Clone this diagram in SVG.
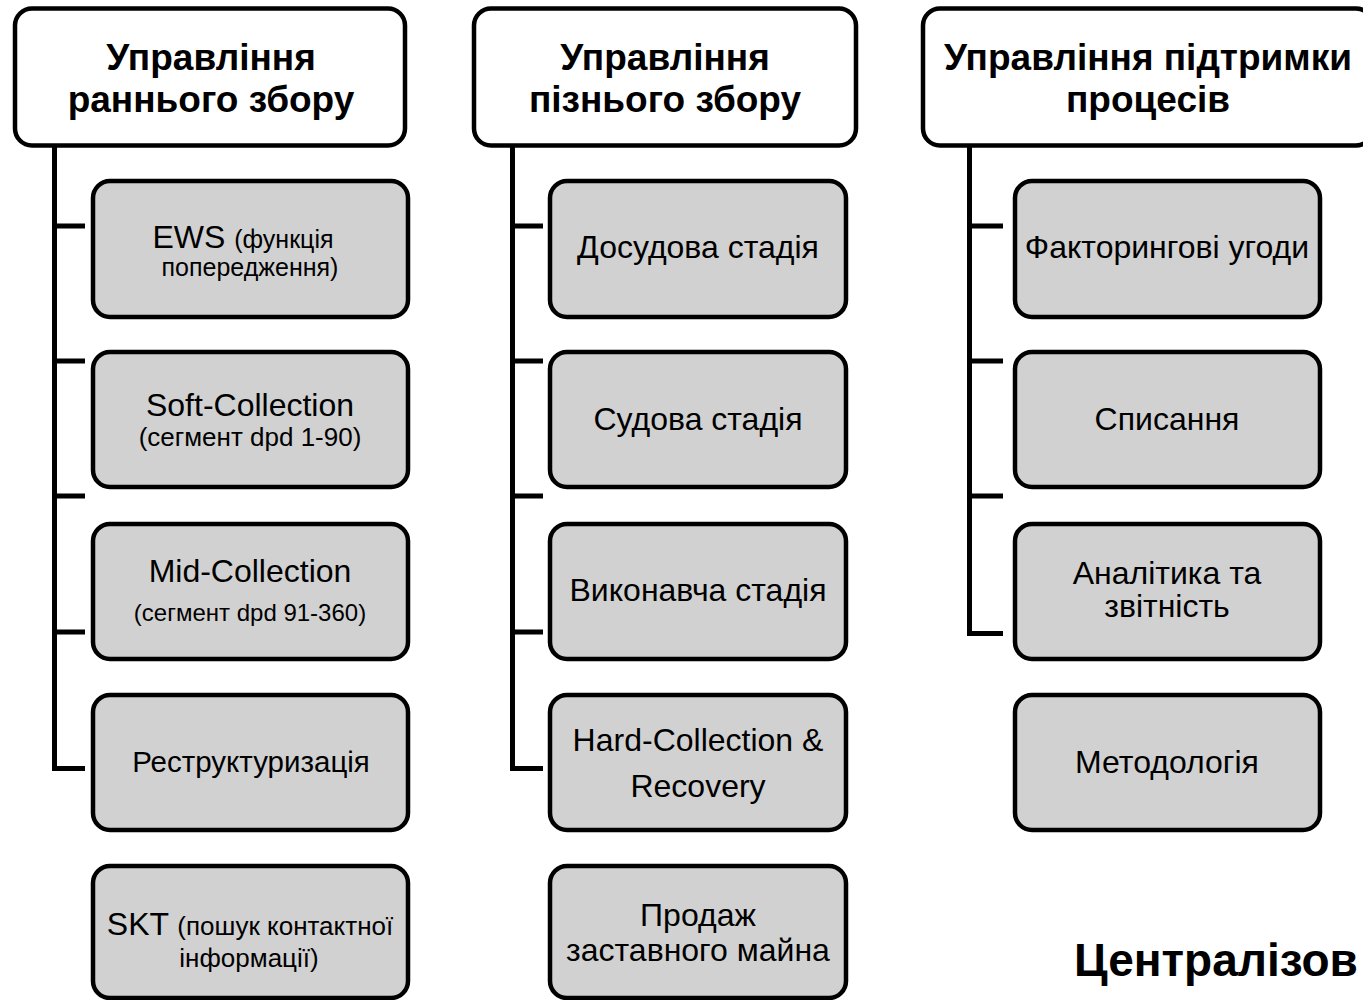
<svg xmlns="http://www.w3.org/2000/svg" width="1363" height="1000" viewBox="0 0 1363 1000">
<style>
.hdr{fill:#ffffff;stroke:#000;stroke-width:4.5}
.box{fill:#d1d1d1;stroke:#000;stroke-width:4.5}
.conn{fill:none;stroke:#000;stroke-width:5}
.ht{font-family:"Liberation Sans",Arial,sans-serif;font-weight:bold;font-size:37px;fill:#000;text-anchor:middle}
.bt{font-family:"Liberation Sans",Arial,sans-serif;font-size:32px;fill:#000;text-anchor:middle}
.st{font-size:25px}
</style>
<rect width="1363" height="1000" fill="#ffffff"/>
<g id="connectors">
<path class="conn" d="M54.5 147 V768.5 H85 M54.5 226 H85 M54.5 361 H85 M54.5 496 H85 M54.5 632 H85"/>
<path class="conn" d="M512.5 147 V768.5 H543 M512.5 226 H543 M512.5 361 H543 M512.5 496 H543 M512.5 632 H543"/>
<path class="conn" d="M969.5 145 V633.5 H1003 M969.5 226 H1003 M969.5 361 H1003 M969.5 496 H1003"/>
</g>
<g id="h1"><rect class="hdr" x="15" y="8.5" width="390" height="137" rx="17"/>
<text class="ht" x="211" y="70">Управління</text><text class="ht" x="211" y="112">раннього збору</text></g>
<g id="h2"><rect class="hdr" x="474" y="8.5" width="382" height="137" rx="17"/>
<text class="ht" x="665" y="70">Управління</text><text class="ht" x="665" y="112">пізнього збору</text></g>
<g id="h3"><rect class="hdr" x="923" y="8.5" width="450" height="137" rx="17"/>
<text class="ht" x="1148" y="70">Управління підтримки</text><text class="ht" x="1148" y="112">процесів</text></g>

<g id="c1n1"><rect class="box" x="93" y="181" width="315" height="136" rx="17"/>
<text class="bt" x="243" y="248">EWS <tspan class="st">(функція</tspan></text><text class="bt st" x="250" y="276">попередження)</text></g>
<g id="c1n2"><rect class="box" x="93" y="352" width="315" height="135" rx="17"/>
<text class="bt" x="250" y="416">Soft-Collection</text><text class="bt" style="font-size:26px" x="250" y="446">(сегмент dpd 1-90)</text></g>
<g id="c1n3"><rect class="box" x="93" y="524" width="315" height="135" rx="17"/>
<text class="bt" x="250" y="582">Mid-Collection</text><text class="bt" style="font-size:24px" x="250" y="621">(сегмент dpd 91-360)</text></g>
<g id="c1n4"><rect class="box" x="93" y="695" width="315" height="135" rx="17"/>
<text class="bt" style="font-size:29.5px" x="251" y="772">Реструктуризація</text></g>
<g id="c1n5"><rect class="box" x="93" y="866" width="315" height="132" rx="17"/>
<text class="bt" x="250" y="935">SKT <tspan style="font-size:26px">(пошук контактної</tspan></text><text class="bt" style="font-size:26px" x="249" y="967">інформації)</text></g>

<g id="c2n1"><rect class="box" x="550" y="181" width="296" height="136" rx="17"/>
<text class="bt" x="698" y="258">Досудова стадія</text></g>
<g id="c2n2"><rect class="box" x="550" y="352" width="296" height="135" rx="17"/>
<text class="bt" x="698" y="430">Судова стадія</text></g>
<g id="c2n3"><rect class="box" x="550" y="524" width="296" height="135" rx="17"/>
<text class="bt" x="698" y="601">Виконавча стадія</text></g>
<g id="c2n4"><rect class="box" x="550" y="695" width="296" height="135" rx="17"/>
<text class="bt" x="698" y="751">Hard-Collection &amp;</text><text class="bt" x="698" y="797">Recovery</text></g>
<g id="c2n5"><rect class="box" x="550" y="866" width="296" height="132" rx="17"/>
<text class="bt" x="698" y="926">Продаж</text><text class="bt" x="698" y="961">заставного майна</text></g>

<g id="c3n1"><rect class="box" x="1015" y="181" width="305" height="136" rx="17"/>
<text class="bt" x="1167" y="258">Факторингові угоди</text></g>
<g id="c3n2"><rect class="box" x="1015" y="352" width="305" height="135" rx="17"/>
<text class="bt" x="1167" y="430">Списання</text></g>
<g id="c3n3"><rect class="box" x="1015" y="524" width="305" height="135" rx="17"/>
<text class="bt" x="1167" y="584">Аналітика та</text><text class="bt" x="1167" y="617">звітність</text></g>
<g id="c3n4"><rect class="box" x="1015" y="695" width="305" height="135" rx="17"/>
<text class="bt" x="1167" y="773">Методологія</text></g>

<g id="footer"><text x="1074" y="976" style="font-family:'Liberation Sans',Arial,sans-serif;font-weight:bold;font-size:46px;fill:#000">Централізов</text></g>
</svg>
